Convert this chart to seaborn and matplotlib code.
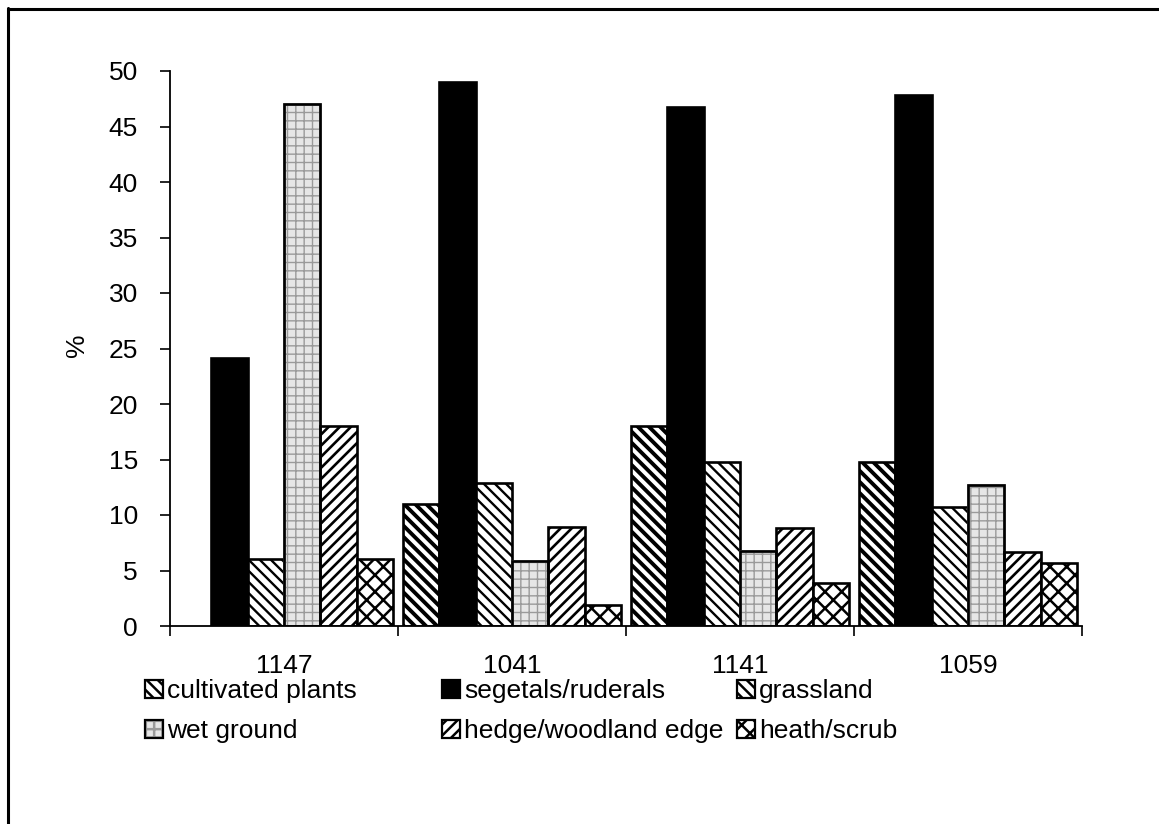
import numpy as np
import pandas as pd
import matplotlib
matplotlib.use('Agg')
import matplotlib.pyplot as plt
import seaborn as sns
from matplotlib.patches import Patch, Rectangle
from matplotlib.lines import Line2D

# ---- data ----
sites = ['1147', '1041', '1141', '1059']
categories = ['cultivated plants', 'segetals/ruderals', 'grassland',
              'wet ground', 'hedge/woodland edge', 'heath/scrub']
cultivated = [0.0, 11.0, 18.0, 14.8]
segetals = [24.1, 49.0, 46.8, 47.8]
grassland = [6.0, 12.9, 14.8, 10.7]
wet_ground = [47.0, 5.9, 6.8, 12.7]
hedge = [18.0, 8.9, 8.8, 6.7]
heath = [6.0, 1.9, 3.9, 5.7]
y_ticks = [0, 5, 10, 15, 20, 25, 30, 35, 40, 45, 50]
y_label = '%'

series = [cultivated, segetals, grassland, wet_ground, hedge, heath]
df = pd.DataFrame({
    'site': [s for vals in series for s in sites],
    'category': [c for c, vals in zip(categories, series) for _ in vals],
    'value': [v for vals in series for v in vals],
})

# ---- styles ----
W, H = 1159, 824
FS = 19
sns.set_theme(style='white')
plt.rcParams['font.family'] = ['Liberation Sans', 'DejaVu Sans']
plt.rcParams['hatch.linewidth'] = 1.8

face = {'cultivated plants': 'white', 'segetals/ruderals': 'black',
        'grassland': 'white', 'wet ground': '#e6e6e6',
        'hedge/woodland edge': 'white', 'heath/scrub': 'white'}
hatch = {'cultivated plants': '\\\\\\', 'segetals/ruderals': None,
         'grassland': '\\\\\\', 'wet ground': '++',
         'hedge/woodland edge': '///', 'heath/scrub': 'xx'}
hatch_lw = {'cultivated plants': 2.8, 'segetals/ruderals': 1.8,
            'grassland': 1.7, 'wet ground': 1.0,
            'hedge/woodland edge': 1.9, 'heath/scrub': 1.8}
EDGE_LW = 1.9
WET_GRID = '#9a9a9a'

fig = plt.figure(figsize=(W / 100, H / 100), dpi=100)
fig.patch.set_facecolor('white')
ax = fig.add_axes([170 / W, 1 - 626 / H, (1082 - 170) / W, (626 - 71) / H])

sns.barplot(data=df, x='site', y='value', hue='category', order=sites,
            hue_order=categories, palette=face, edgecolor='black',
            linewidth=EDGE_LW, width=0.96, saturation=1, legend=False, ax=ax)

for cont, cat in zip(ax.containers, categories):
    for bar in cont:
        if bar.get_height() == 0:
            bar.set_visible(False)
            continue
        if hatch[cat]:
            bar.set_hatch(hatch[cat])
        if hasattr(bar, 'set_hatch_linewidth'):
            bar.set_hatch_linewidth(hatch_lw[cat])
        if cat == 'wet ground':
            bar.set_edgecolor(WET_GRID)
            ax.add_patch(Rectangle(bar.get_xy(), bar.get_width(), bar.get_height(),
                                   fill=False, edgecolor='black', lw=EDGE_LW, zorder=bar.get_zorder() + 0.1))

ax.set_xlim(-0.5, 3.5)
ax.set_ylim(0, 50)
ax.set_yticks(y_ticks)
ax.set_yticklabels([str(t) for t in y_ticks], fontsize=FS, color='black')
ax.set_xticks([-0.5, 0.5, 1.5, 2.5, 3.5])
ax.set_xticklabels([''] * 5)
ax.set_xticks(range(len(sites)), minor=True)
ax.set_xticklabels(sites, minor=True, fontsize=FS, color='black')
ax.tick_params(axis='x', which='major', length=7, width=1.2, direction='out', color='black', bottom=True)
ax.tick_params(axis='x', which='minor', length=0, pad=20, bottom=True)
ax.tick_params(axis='y', length=7, width=1.2, direction='out', color='black', pad=16, left=True)
ax.set_xlabel('')
ax.set_ylabel('')
for s in ['top', 'right']:
    ax.spines[s].set_visible(False)
for s in ['left', 'bottom']:
    ax.spines[s].set_color('black')
    ax.spines[s].set_linewidth(1.3)
ax.set_facecolor('white')

fig.text(77 / W, 1 - 345 / H, y_label, rotation=90, fontsize=FS,
         ha='center', va='center', color='black')

# ---- legend: three columns of two rows ----
def handle(cat):
    if cat == 'wet ground':
        return (Patch(facecolor=face[cat], edgecolor=WET_GRID, hatch=hatch[cat], lw=0),
                Patch(facecolor='none', edgecolor='black', lw=1.6))
    return Patch(facecolor=face[cat], edgecolor='black', hatch=hatch[cat], lw=1.6)

cols = [(categories[0], categories[3]), (categories[1], categories[4]), (categories[2], categories[5])]
col_x = [145, 442, 737]
for i, (pair, x) in enumerate(zip(cols, col_x)):
    leg = fig.legend([handle(c) for c in pair], list(pair), loc='upper left',
                     bbox_to_anchor=(x / W, 1 - 679 / H), frameon=False,
                     fontsize=FS, handlelength=0.68, handleheight=0.68,
                     handletextpad=0.15, labelspacing=0.6, borderpad=0,
                     borderaxespad=0)
    for t in leg.get_texts():
        t.set_color('black')

# ---- outer frame (top and left edges are visible in the reference) ----
fig.add_artist(Line2D([8 / W, 8 / W], [1 - 8 / H, 0], transform=fig.transFigure, color='black', lw=2.2))
fig.add_artist(Line2D([8 / W, 1], [1 - 9 / H, 1 - 9 / H], transform=fig.transFigure, color='black', lw=2.2))

fig.savefig('out.png', dpi=100, facecolor='white')
